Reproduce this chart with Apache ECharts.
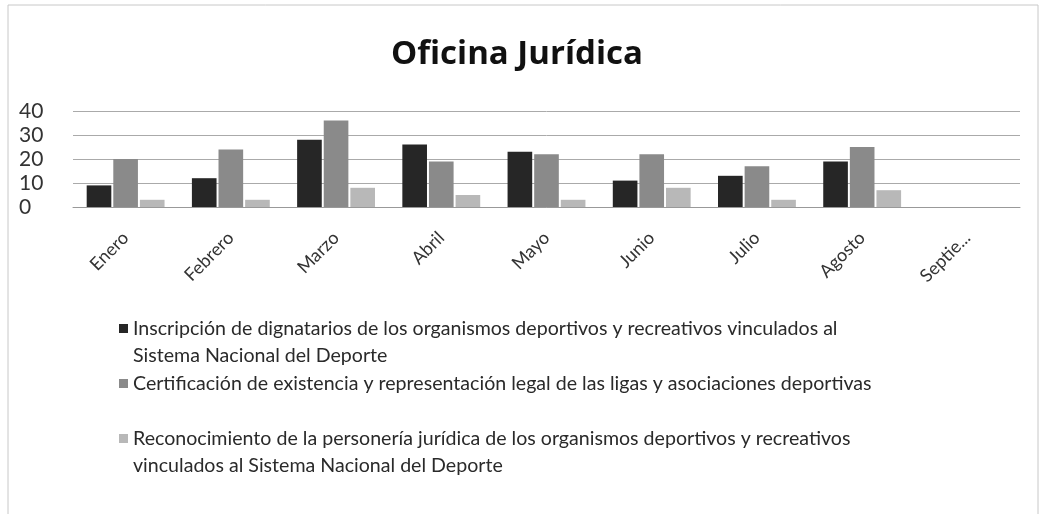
<!DOCTYPE html>
<html>
<head>
<meta charset="utf-8">
<script src="https://cdn.jsdelivr.net/npm/echarts@6/dist/echarts.min.js"></script>
<style>
  html, body { margin: 0; padding: 0; background: #fff; }
  #chart { width: 1041px; height: 514px; }
</style>
</head>
<body>
<div id="chart"></div>
<script>
// datos
const months = ['Enero', 'Febrero', 'Marzo', 'Abril', 'Mayo', 'Junio', 'Julio', 'Agosto', 'Septiembre']
const inscripcion = [9, 12, 28, 26, 23, 11, 13, 19, null]
const certificacion = [20, 24, 36, 19, 22, 22, 17, 25, null]
const reconocimiento = [3, 3, 8, 5, 3, 8, 3, 7, null]
const yTicks = [0, 10, 20, 30, 40]

const seriesNames = [
  'Inscripción de dignatarios de los organismos deportivos y recreativos vinculados al Sistema Nacional del Deporte',
  'Certificación de existencia y representación legal de las ligas y asociaciones deportivas',
  'Reconocimiento de la personería jurídica de los organismos deportivos y recreativos vinculados al Sistema Nacional del Deporte'
]
// dónde parte cada texto de la leyenda (la segunda línea va aparte)
const legendBreaks = ['vinculados al ', null, 'recreativos ']

const colors = ['#262626', '#8a8a8a', '#b8b8b8']
const fontFamily = 'Lato, "Noto Sans", sans-serif'
const legendFont = 19.6
const lineH = 27

const chart = echarts.init(document.getElementById('chart'))

const splitName = (name) => {
  const idx = seriesNames.indexOf(name)
  const br = legendBreaks[idx]
  if (!br) return [name, null]
  const pos = name.indexOf(br) + br.length
  return [name.slice(0, pos).trim(), name.slice(pos)]
}

const legendTops = [315, 370, 425]
const legends = seriesNames.map((name, i) => ({
  data: [name],
  left: 119,
  top: legendTops[i],
  padding: 0,
  itemWidth: 9,
  itemHeight: 9,
  itemGap: 0,
  icon: 'rect',
  formatter: (n) => splitName(n)[0],
  textStyle: {
    fontFamily: fontFamily,
    fontSize: legendFont,
    lineHeight: lineH,
    color: '#2a2a2a',
    padding: [0, 0, 0, 0]
  }
}))

// segunda línea de las entradas largas de la leyenda
const legendCont = []
seriesNames.forEach((name, i) => {
  const rest = splitName(name)[1]
  if (rest) {
    legendCont.push({
      type: 'text',
      left: 133,
      top: legendTops[i] + lineH,
      silent: true,
      style: {
        text: rest,
        font: legendFont + 'px ' + fontFamily,
        lineHeight: lineH,
        fill: '#2a2a2a'
      }
    })
  }
})

const makeSeries = (name, data, color) => ({
  name: name,
  type: 'bar',
  data: data,
  barGap: '8%',
  barCategoryGap: '26%',
  itemStyle: { color: color },
  animation: false
})

const option = {
  color: colors,
  title: {
    text: 'Oficina Jurídica',
    left: 386,
    top: 33,
    textStyle: {
      fontFamily: '"Open Sans", "Noto Sans", sans-serif',
      fontWeight: 'bold',
      fontSize: 33,
      color: '#111'
    }
  },
  legend: legends,
  grid: {
    left: 73,
    right: 21,
    top: 111,
    bottom: 307
  },
  xAxis: {
    type: 'category',
    data: months,
    axisLine: { lineStyle: { color: '#999', width: 1 } },
    axisTick: { show: false },
    axisLabel: {
      rotate: 45,
      interval: 0,
      margin: 28,
      fontFamily: fontFamily,
      fontSize: 18,
      color: '#333',
      width: 76,
      overflow: 'truncate',
      ellipsis: '...'
    }
  },
  yAxis: {
    type: 'value',
    min: yTicks[0],
    max: yTicks[yTicks.length - 1],
    interval: 10,
    axisLine: { show: false },
    axisTick: { show: false },
    axisLabel: {
      margin: 26,
      fontFamily: fontFamily,
      fontSize: 21,
      color: '#333',
      align: 'left',
      padding: [0, 0, 0, -28]
    },
    splitLine: { lineStyle: { color: '#aaa', width: 1 } }
  },
  graphic: [
    {
      type: 'rect',
      shape: { x: 8, y: 5, width: 1030, height: 520 },
      style: { fill: 'none', stroke: '#c8c8c8', lineWidth: 1 },
      silent: true
    }
  ].concat(legendCont),
  series: [
    makeSeries(seriesNames[0], inscripcion, colors[0]),
    makeSeries(seriesNames[1], certificacion, colors[1]),
    makeSeries(seriesNames[2], reconocimiento, colors[2])
  ]
}

chart.setOption(option)
</script>
</body>
</html>
